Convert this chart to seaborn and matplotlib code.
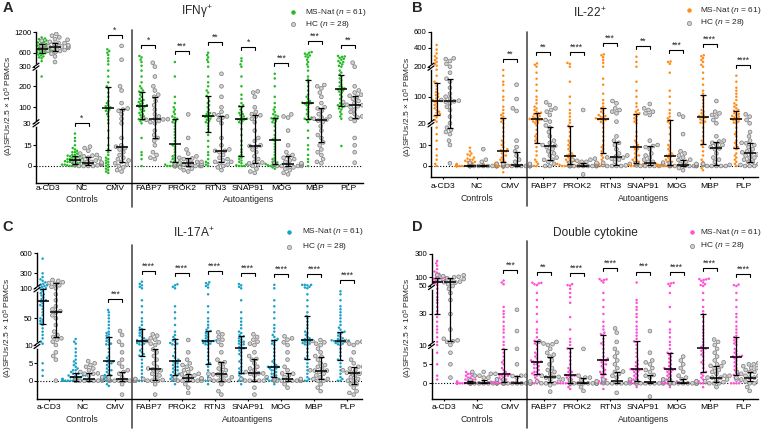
import numpy as np
import pandas as pd
import matplotlib
matplotlib.use("Agg")
import matplotlib.pyplot as plt
import matplotlib.colors as mcolors
import matplotlib.transforms as mtransforms
from matplotlib.lines import Line2D
import seaborn as sns

W, H = 763, 430

antigens = ["a-CD3", "NC", "CMV", "FABP7", "PROK2", "RTN3", "SNAP91", "MOG", "MBP", "PLP"]
groups = ["MS-Nat", "HC"]

# ---------------- A: IFNg ----------------
ifng_ms = [
    "250 420 480 500 520 540 560 580 590 600 610 620 630 640 650 660 670 680 690 690 700 700 710 720 720 730 740 740 750 760 780 800 810 830 850 860 880 900 920 940 960 980 1000 1020 1050",
    "0 0 0 0 0 0.5 0.5 1 1 1 1.5 1.5 2 2 2 2.5 3 3 3 3.5 4 4 4.5 4.5 5 5 5.5 6 6 6.5 7 7 7.5 8 8 9 10 10 11 12 13 15 18 20 23",
    "-5 -4 -3 -2 -1 0 1 2 3 4 5 6 8 10 12 15 20 25 30 45 60 70 80 85 90 95 100 105 110 120 130 150 170 190 200 220 250 280 350 420 480 550 600 650 700",
    "0 5 8 10 20 30 40 45 48 50 55 60 65 70 75 80 85 90 95 100 104 106 108 110 115 120 125 130 135 140 150 160 170 175 180 190 200 220 250 280 320 400 450 500 530",
    "-1 0 0 0 0 0 0.5 1 1 1.5 2 2.5 3 3 4 5 6 7 8 10 12 14 15 16 18 20 22 24 26 28 30 35 40 45 50 55 60 70 80 90 100 120 150 250 400",
    "0 1 2 3 5 8 10 14 18 22 24 26 28 30 35 40 45 50 55 58 60 62 63 65 70 75 80 90 100 110 120 130 145 155 170 180 200 220 250 300 400 450 500 550 600",
    "0 0 0 0.5 1 1 2 3 4 5 6 7 8 10 12 15 18 22 26 30 35 40 45 47 48 50 55 60 65 70 75 80 90 100 105 110 120 140 160 200 250 300 350 420 478",
    "-2 -1 0 0 0 0 0.5 1 1 1.5 2 2.5 3 4 5 6 8 10 12 14 16 18 19 20 22 25 28 30 35 40 45 50 52 55 60 65 70 80 90 100 120 150 200 240 264",
    "0 3 5 8 12 15 20 25 35 45 48 50 55 60 70 80 90 100 110 115 118 120 122 125 130 140 150 160 180 200 220 235 250 280 300 350 400 450 500 520 540 560 580 600 617",
    "14.5 50 60 70 80 90 95 100 105 108 110 115 120 130 140 150 160 170 175 180 185 185 190 195 200 210 220 230 240 250 260 270 280 300 320 350 380 400 420 450 470 490 510 520 532",
]
ifng_hc = [
    "400 520 580 620 650 660 680 700 720 740 760 770 780 780 790 800 820 840 860 880 890 920 950 980 1000 1050 1100 1150",
    "0 0 0 0 0.5 0.5 1 1 1.5 1.5 2 2 2.5 2.5 3 3 4 4 5 5.5 6 7 7.5 8 9 11 13 14",
    "-4 -3 -1 0 1 2 3 4 5 6 8 10 12 13 14 15 20 30 50 70 85 90 95 120 180 200 450 800",
    "5 6 8 10 15 18 20 22 25 30 35 40 45 47 48 50 60 70 90 110 130 150 160 180 200 250 300 385",
    "-4 -3 -2 -1 0 0 0 0 0 0 0.5 1 1 1.5 2 2 2.5 3 3 4 5 5.5 6 7 9 12 20 69",
    "-3 -1 0 1 2 3 3 4 5 6 8 10 11 11 12 15 20 30 45 55 60 65 70 80 100 150 200 264",
    "-5 -4 -2 0 1 2 2.5 3 5 7 10 12 14 14.5 15 18 20 25 35 50 60 65 70 80 100 150 170 176",
    "-6 -5 -3 -2 -1 0 0 0 0 0.5 1 1 1.5 1.5 2 2 3 4 5 6 7 8 10 15 25 55 60 69",
    "2 3 5 8 10 12 15 17 20 22 25 28 35 42 46 50 55 60 70 85 95 100 120 150 170 190 200 207",
    "2.4 10 15 20 40 50 55 60 70 80 90 100 105 110 112 115 120 125 130 140 150 155 160 170 180 200 300 386",
]
ifng_ms_med = [720, 4.5, 95, 106, 15.7, 63, 47.5, 18.8, 120, 185]
ifng_ms_q1 = [590, 1.5, 11.6, 47.5, 2.7, 24, 7.2, 1.5, 47, 106]
ifng_ms_q3 = [850, 7.5, 198, 175, 50, 153, 106, 52, 232, 258]
ifng_hc_med = [780, 2.4, 13.5, 47, 2, 11, 14.5, 1.5, 44, 111]
ifng_hc_q1 = [650, 0.7, 3.1, 20, 0, 3, 2.4, 0, 17, 55]
ifng_hc_q3 = [890, 6.7, 92, 150, 5.6, 62, 66, 7.2, 95, 154]
ifng_stars = ["", "*", "*", "*", "***", "**", "*", "***", "***", "**"]

# ---------------- B: IL-22 ----------------
il22_ms = [
    "0 1 3 5 8 12 15 18 25 30 38 42 45 48 52 55 60 65 70 75 80 85 88 88 90 95 100 105 110 115 125 135 145 150 170 190 210 230 250 270 290 310 340 380 435",
    "0 0 0 0 0 0 0 0 0 0 0 0 0 0 0 0 0 0 0 0 0 0 0 0 0.5 0.5 0.5 0.5 1 1 1 1.5 1.5 2 2 2.5 3 3 3.5 4 5 5.5 6 7 8.7",
    "-3 -1 0 0 0 0 0 0.5 1 1 2 2 3 3 4 5 5 6 7 7 7.5 8 9 10 11 12 14 16 18 20 25 30 35 40 45 50 60 70 90 100 120 140 150 170 189",
    "0 0 1 2 3 5 7 9 11 12 13 14 15 17 19 20 22 25 28 30 31 32 33 35 37 40 42 45 48 50 52 55 60 65 70 80 90 100 120 140 160 180 200 220 235",
    "0 0 0 0 0 0 0 0.5 1 1 1 1.5 2 2 2.5 3 3 3.5 4 4.5 5 5 5.5 6 7 8 9 10 11 12 14 16 18 19 22 30 40 50 60 80 100 150 200 230 240",
    "0 0 0 1 2 3 4 5 6 7 8 9 10 12 14 16 18 20 24 28 30 32 32 33 35 38 40 42 45 50 55 60 65 70 80 90 110 140 160 200 240 270 300 320 330",
    "0 0 0 0 0 0.5 1 1 1.5 2 2 3 3 4 5 5 6 7 8 8 9 9.2 10 11 12 14 16 20 25 30 35 40 45 48 50 55 60 70 80 100 120 150 200 250 305",
    "0 0 0 0 0 0 0 0 0 0.3 0.5 1 1 1.5 2 2 3 3 4 4.5 4.9 5 5.5 6 7 8 9 10 12 15 18 20 25 30 35 40 50 60 80 100 120 180 230 250 255",
    "-2 -1 0 0 1 2 3 5 7 9 10 11 12 14 16 18 20 22 25 28 32 35 38 40 42 45 50 55 60 70 80 90 100 110 120 140 160 180 200 220 250 270 290 310 320",
    "0 1 2 3 4 5 6 8 8.7 9 10 11 12 14 15 16 18 20 22 25 28 30 32 33 35 38 40 42 45 48 50 55 58 60 65 70 75 80 90 100 110 120 130 150 170",
]
il22_hc = [
    "1.3 10 12 15 16 17 18 20 40 60 70 80 85 86 88 90 95 100 110 130 150 160 180 200 230 260 280 288",
    "0 0 0 0 0 0 0 0 0 0 0 0 0 0 0 0 0.3 0.3 0.5 0.5 0.5 1 1 1 1.5 2 3 8",
    "0 0 0 0 0 0 0 0 0 0 0 0 0.3 0.5 0.5 0.5 1 1 2 3 5 7 9 12 57 65 93 140",
    "0 0 1 2 2.9 3 4 5 6 7 8 9 9.7 10 11 12 14 16 18 19 25 30 45 55 60 65 75 83",
    "-4 0 0 0 0 0 0 0 0 0 0 0 0 0.2 0.3 0.5 0.5 1 1 1.5 1.6 2 2 2.5 3 3 3.5 60",
    "0 0 0 0 0.3 0.5 1 1.5 2 3 3.5 4 4.1 4.5 5 6 8 10 11 12 14 25 50 55 60 65 80 87",
    "0 0 0 0 0 0.3 0.5 1 1 1.5 1.6 2 2 3 4 5 6 8 9 9.5 10 12 45 50 55 60 65 78",
    "-2 -1 0 0 0 0 0 0 0 0 0 0.3 0.3 0.5 0.5 1 1 1.5 2 2.9 3 4 5 6 7 15 40 47",
    "0 0 0 0 0 0.5 0.5 1 2 3 4 6 8 8.4 9 10 10 11 11.6 12 14 20 30 40 45 50 55 87",
    "0 0 0 0.5 1 1.5 2 2 3 4 4 5 5.5 6 6.5 7 8 9 10 10.8 11 12 14 16 20 30 40 47",
]
il22_ms_med = [88, 0, 7.3, 32, 4.9, 32, 9.2, 4.9, 38, 32]
il22_ms_q1 = [45, 0, 2, 11, 1, 6, 1.6, 0.3, 10.5, 8.7]
il22_ms_q3 = [145, 0.5, 35, 52, 18.6, 65, 47, 30, 105, 58]
il22_hc_med = [87, 0, 0.5, 9.7, 0.2, 4.1, 1.6, 0.3, 8.4, 6]
il22_hc_q1 = [18, 0, 0, 2.9, 0, 0.3, 0.3, 0, 0.5, 2]
il22_hc_q3 = [158, 0.3, 6.8, 18.3, 1.6, 11.2, 9.5, 2.9, 11.6, 10.8]
il22_stars = ["", "", "**", "**", "****", "***", "**", "***", "****", "****"]

# ---------------- C: IL-17A ----------------
il17_ms = [
    "1.4 3 5 12 15 20 25 30 35 40 42 44 46 48 50 55 60 65 70 72 75 78 79 80 82 85 88 90 92 95 98 99 100 110 120 130 140 150 160 180 200 220 250 300 520",
    "0 0 0 0 0 0 0 0 0 0 0 0 0 0 0.5 0.5 0.5 0.5 1 1 1 1 1 1.5 1.5 1.5 2 2 2 2.3 2.5 3 3 3.5 4 4.5 5 5.5 6 7 8 9 12 15 19",
    "-1.5 -1 0 0 0 0.5 1 1 1.5 1.6 2 2.5 3 3 3.5 4 4.5 5 5 5.5 5.5 6 6.5 7 8 9 10 11 12 14 16 18 20 22 24 26 28 30 35 40 45 50 55 60 64",
    "0 0 0.5 1 2 3 4 5 6 7 7.1 7.5 8 8.5 9 10 11 12 13 14 15 16 16 17 18 20 22 24 26 28 30 32 34 36 40 45 50 60 70 80 100 120 140 160 188",
    "-1 0 0 0 0.5 1 1 1.5 1.6 2 2 2.5 3 3 3.5 4 4 4.5 5 5 5.5 5.6 6 6.5 7 8 9 10 11 12 13 15 17 19 22 25 30 40 50 60 70 100 120 140 153",
    "-1 0 0 0.5 1 2 3 4 4.7 5 6 7 8 9 10 11 12 13 14 15 15.5 16 16.5 17 18 20 22 24 26 28 30 31 33 36 40 45 50 60 70 90 110 130 150 170 180",
    "-1 0 0 0.5 1 1.5 2 2.1 2.5 3 3.5 4 5 5.5 6 7 7.5 8 8.5 9 9.1 9.5 10 11 12 14 15 16 18 20 22 23 25 28 30 35 40 45 50 60 80 100 120 140 157",
    "-1 0 0 0 0 0.5 0.5 1 1.1 1.5 2 2 2.5 3 3 3.5 3.5 4 4 4 4 4.5 5 5.5 6 7 8 9 10 12 14 16 17.5 19 22 25 30 35 40 50 60 70 80 100 146",
    "0 0 0.5 1 2 3 4 5 6 6.3 7 8 9 10 11 12 13 14 15 16 17 17.5 18 19 20 22 25 28 30 35 40 45 50 54 60 70 80 90 100 110 120 140 146 146 146",
    "0 0 0.5 1 2 3 4 5 5.9 6 7 8 9 10 11 12 13 14 15 15.5 16 16 16.5 17 18 19 20 22 24 26 28 29 30 33 36 40 45 50 55 60 65 70 80 90 95",
]
il17_hc = [
    "0 6 7 8 10 15 18 20 22 25 30 40 50 55 60 62 65 70 80 90 100 120 140 160 170 180 200 211",
    "0 0 0 0 0 0 0 0 0.3 0.5 0.5 0.5 0.5 0.5 1 1 1 1.5 2 2 2.1 2.5 3 3.5 4 4.5 5 5.6",
    "-4 -1 0 0 0 0 0 0 0 0 0 0.3 0.4 0.5 0.5 1 1 2 2.5 3 4 5 6 8 10 15 25 31",
    "-4 -1 0 0 0 0.2 0.5 1 1.5 2 2.5 3 3.3 3.5 4 5 6 7 8 8.8 10 12 14 16 18 20 24 26",
    "-3.5 -2 -1 0 0 0 0 0 0 0.3 0.5 0.7 0.7 1 1 1.2 1.5 1.8 2 2.5 3 3.5 4 4.5 5 6 8 17.5",
    "-4 -3 -1 0 0 0 0 0.5 1 1 1.5 1.8 1.8 2 2.5 3 3.5 4 5 5.3 6 8 10 15 18 22 26 29",
    "-4 -2 0 0 0 0 0 0.5 1 1.5 2 2.1 2.1 2.5 3 3.5 4 5 6 6.2 7 8 10 12 15 18 22 26",
    "-2 -1 0 0 0 0 0 0 0 0 0.3 0.4 0.4 0.5 1 1 1.5 2 2.1 3 4 6 8 10 14 18 20 23",
    "-3 -2 -1 0 0 0.5 0.5 1 1.5 2 2.5 2.9 2.9 3 3.5 4 4.5 5 6 6.8 7 8 9 10 12 14 16 17.5",
    "-4 -3.5 -3 -2 -1 -1 0 0 0.5 1 1.5 2 2.3 2.3 2.5 3 3 3.5 4 4 5 6 8 10 12 14 15 16",
]
il17_ms_med = [79, 1, 5.5, 16, 5.6, 16, 9.1, 4, 17.5, 16]
il17_ms_q1 = [42, 0, 1.6, 7.1, 1.6, 4.7, 2.1, 1.1, 6.3, 5.9]
il17_ms_q3 = [99, 2.3, 22, 34, 19, 31, 23, 17.5, 54, 29]
il17_hc_med = [61, 0.5, 0.4, 3.3, 0.7, 1.8, 2.1, 0.4, 2.9, 2.3]
il17_hc_q1 = [22, 0, 0, 0.2, 0, 0, 0, 0, 0.5, -1]
il17_hc_q3 = [167, 2.1, 2.6, 8.8, 1.8, 5.3, 6.2, 2.1, 6.8, 4]
il17_stars = ["", "", "***", "****", "****", "****", "****", "****", "****", "****"]

# ---------------- D: double cytokine ----------------
dbl_ms = [
    "1 2 5 8 10 12 15 18 20 22 25 28 30 32 35 38 40 42 45 48 55 65 72 75 75 78 80 82 85 88 90 92 94 96 98 100 110 120 130 140 150 170 200 220 240",
    "0 0 0 0 0 0 0 0 0 0 0 0 0 0 0 0 0 0 0 0 0 0 0 0 0 0 0 0.3 0.3 0.5 0.5 0.7 0.7 1 1 1 1.5 1.5 2 2 2 2.5 2.5 3 3",
    "0 0 0 0 0 0 0 0 0.2 0.4 0.5 0.8 1 1 1.5 1.5 2 2 2 2.2 2.4 2.6 3 3.5 4 5 5.5 6 7 8 9 10 12 15 18 20 22 25 28 30 32 35 60 70 81",
    "0 0 0.5 1 1.5 2 2.2 2.4 2.6 3 3 3.5 4 4 4.5 5 5 5.5 5.6 5.7 5.7 6 6.5 7 7.5 8 9 10 11 12 12.7 13 15 18 20 25 30 35 40 45 55 60 65 68 69",
    "-1.5 -1 -0.5 0 0 0 0 0 0 0 0 0 0.5 1 1 1.5 1.5 2 2 2 2.2 2.2 2.5 3 3 3.5 4 5 6 7 8 9 9.1 10 12 14 20 28 38 42 45 48 52 55 61",
    "-1.5 0 0 0 0.5 1 1 1.5 2 2.4 2.5 3 3 3.5 4 4.5 5 5 5.5 6 6 6.1 6.5 7 8 9 10 11 12 14 16.5 17 18 20 22 25 30 35 40 45 70 80 85 88 90",
    "-1 0 0 0 0 0 0.5 0.6 1 1 1.5 2 2 2.5 3 3 3.5 3.5 3.6 3.7 3.7 4 4.5 5 5.5 6 7 8 9 10 12 12.3 14 16 18 20 22 25 28 30 33 35 38 40 70",
    "-1 0 0 0 0 0 0 0.5 0.6 1 1 1.5 2 2 2.5 3 3 3.5 3.5 3.7 3.7 4 4 4.5 5 5.5 6 6.5 7 7.5 7.9 8 9 10 12 15 18 20 25 35 45 50 62 65 68",
    "-1 0 0 0 0.5 1 1.5 2 2.5 2.9 3 4 5 5.5 6 7 7.5 8 8.5 9 9.1 9.5 10 12 14 16 18 20 22 25 28 30 32 35 40 45 50 55 60 70 80 85 88 90 92",
    "0 0 0 0 0.5 1 1.5 2 2.2 2.5 3 3.5 4 4.5 5 5.5 6 6.5 6.8 7 7 7.2 7.5 8 8.5 9 10 11 12 13 14 15 16 18 20 22 25 28 30 35 40 45 50 55 58",
]
dbl_hc = [
    "1.5 5 8 10 12 12.4 13 14 20 30 40 45 48 50 60 70 72 75 80 85 90 94 100 105 110 115 118 120",
    "0 0 0 0 0 0 0 0 0 0 0 0 0.2 0.2 0.3 0.5 0.5 0.8 1 1 1.5 1.5 2 2 2.5 2.5 3 3",
    "0 0 0 0 0 0 0 0 0 0 0 0 0 0 0 0 0.3 0.5 1 1 1.5 1.9 2 2 5 9 19 33",
    "-2.2 -0.5 0 0 0 0.4 0.5 1 1 1.5 1.7 1.7 2 2.5 3 3.5 4 5 6 7 7.5 8 9 10 10.5 11 12 12.3",
    "-2 -1 0 0 0 0 0 0 0 0 0 0 0 0 0 0 0 0 0.3 0.5 0.5 0.5 1 1 1.5 1.5 2 9",
    "-2.5 0 0 0 0 0 0 0 0.3 0.5 0.7 0.7 1 1 1.5 2 2.5 3 3.1 4 5 6 7 8 9 12 18 20.7",
    "-3.5 0 0 0 0 0 0 0 0 0 0 0.3 0.4 0.4 0.5 1 1 1.5 2 2.2 3 3.5 4 5 5.5 6 8 19",
    "0 0 0 0 0 0 0 0 0 0 0 0 0 0 0 0.3 0.5 0.5 1 1 1.1 1.5 2 3 4 5 6 7",
    "-1 0 0 0 0.3 0.5 1 1 1.5 1.5 1.5 2 2 2.5 3 3.5 4 4.5 4.6 5 5.5 6 7 8 9 10 12 13.5",
    "-2 -1 0 0 0.5 0.5 1 1 1 1.5 1.5 1.5 1.5 2 2 2 2.5 2.5 2.9 3 3 3.5 4 4 4.5 5 5 5.3",
]
dbl_ms_med = [75, 0, 2.4, 5.7, 2.2, 6.1, 3.7, 3.7, 9.1, 7]
dbl_ms_q1 = [30, 0, 0.4, 2.4, 0, 2.4, 0.6, 0.6, 2.9, 2.2]
dbl_ms_q3 = [94, 0.7, 9, 12.7, 9.1, 16.5, 12.3, 7.9, 30, 15]
dbl_hc_med = [71, 0.2, 0, 1.7, 0, 0.7, 0.4, 0, 1.5, 1.5]
dbl_hc_q1 = [12.4, 0, 0, 0.4, 0, 0, 0, 0, 0.3, 0.5]
dbl_hc_q3 = [94, 0.8, 1.9, 7, 1.5, 3.1, 2.2, 1.1, 4.6, 2.9]
dbl_stars = ["", "", "***", "**", "****", "****", "***", "****", "****", "****"]

HC_FILL = "#d2d2d2"
HC_EDGE = "#7a7a7a"

sns.set_style("ticks")
plt.rcParams["font.family"] = ["Liberation Sans", "DejaVu Sans"]
plt.rcParams["mathtext.fontset"] = "custom"
plt.rcParams["mathtext.rm"] = "Liberation Sans"
plt.rcParams["mathtext.it"] = "Liberation Sans:italic"
plt.rcParams["mathtext.bf"] = "Liberation Sans:bold"

fig = plt.figure(figsize=(W / 100, H / 100), dpi=100)


def ftext(x, y, s, **kw):
    return fig.text(x / W, 1 - y / H, s, **kw)


def make_scale(vals, pix):
    # piecewise-linear (broken) y axis, in pixel units
    v = np.asarray(vals, float)
    p = -np.asarray(pix, float)
    s0 = (p[1] - p[0]) / (v[1] - v[0])
    s1 = (p[-1] - p[-2]) / (v[-1] - v[-2])
    v = np.r_[v[0] - 1e4, v, v[-1] + 1e5]
    p = np.r_[p[0] - 1e4 * s0, p, p[-1] + 1e5 * s1]
    return (lambda y: np.interp(y, v, p)), (lambda q: np.interp(q, p, v))


def draw_panel(rect, ms, hc, ms_stats, hc_stats, stars, color, vals, pix, ticks,
               breaks, xpad, group_off, sep):
    l, t, r, b = rect
    ax = fig.add_axes([l / W, 1 - b / H, (r - l) / W, (b - t) / H])
    aw, ah = r - l, b - t
    fwd, inv = make_scale(vals, pix)
    ax.set_yscale("function", functions=(fwd, inv))

    rows = []
    for g, lst in zip(groups, (ms, hc)):
        for ag, s in zip(antigens, lst):
            rows += [(ag, g, float(v)) for v in s.split()]
    df = pd.DataFrame(rows, columns=["antigen", "group", "value"])

    ax.axhline(0, color="black", lw=0.8, ls=(0, (1, 1.6)), zorder=1)
    sns.swarmplot(data=df, x="antigen", y="value", hue="group", order=antigens,
                  hue_order=groups, dodge=True, palette=[color, HC_FILL], size=1.8,
                  linewidth=0, legend=False, warn_thresh=1, ax=ax, zorder=2)
    hc_rgb = mcolors.to_rgb(HC_FILL)
    for coll in ax.collections:
        fc = coll.get_facecolor()
        if len(fc) and np.allclose(fc[0][:3], hc_rgb):
            coll.set_edgecolor(HC_EDGE)
            coll.set_linewidth(0.5)
            coll.set_sizes([2.7 ** 2])

    x = np.arange(len(antigens))
    for off, (q1, med, q3) in zip((-0.2, 0.2), (ms_stats, hc_stats)):
        q1, med, q3 = (np.asarray(a, float) for a in (q1, med, q3))
        ax.errorbar(x + off, med, yerr=[med - q1, q3 - med], fmt="none", ecolor="black",
                    elinewidth=0.9, capsize=2.2, capthick=0.9, zorder=4)
        ax.hlines(med, x + off - 0.18, x + off + 0.18, color="black", lw=1.1, zorder=4)

    # significance brackets
    for i, st in enumerate(stars):
        if not st:
            continue
        top = max(float(v) for v in ms[i].split() + hc[i].split())
        yb = fwd(top) + 11
        y0, y1 = inv(yb - 3), inv(yb)
        ax.plot([i - 0.21, i - 0.21, i + 0.21, i + 0.21], [y0, y1, y1, y0],
                color="black", lw=0.8, clip_on=False, zorder=4)
        ax.text(i, inv(yb + 0.3), st, ha="center", va="bottom", fontsize=6.2)

    ax.set_xlim(-0.37, 9.45)
    ax.set_ylim(vals[0], vals[-1])
    ax.set_yticks(ticks)
    ax.set_yticklabels([str(tk) for tk in ticks])
    ax.set_xlabel("")
    ax.set_ylabel("")
    sns.despine(ax=ax)
    for sp in ("left", "bottom"):
        ax.spines[sp].set_linewidth(1.0)
        ax.spines[sp].set_color("black")
    ax.tick_params(axis="y", length=2.5, width=0.8, pad=0.6, labelsize=5.6, colors="black")
    ax.tick_params(axis="x", length=1.5, width=0.8, pad=xpad, labelsize=6.1, colors="black")

    # axis breaks
    lo, hi = fwd(vals[0]), fwd(vals[-1])
    for bv in breaks:
        yf = (fwd(bv) - lo) / (hi - lo)
        ax.plot([0, 0], [yf - 1.6 / ah, yf + 1.6 / ah], transform=ax.transAxes,
                color="white", lw=2, clip_on=False, zorder=6)
        for d in (-1.4, 1.4):
            ax.plot([-3 / aw, 3 / aw], [yf + (d - 2.2) / ah, yf + (d + 2.2) / ah],
                    transform=ax.transAxes, color="black", lw=0.9, clip_on=False, zorder=7)

    blend = mtransforms.blended_transform_factory(ax.transData, ax.transAxes)
    ax.plot([2.5, 2.5], sep, transform=blend, color="#4d4d4d", lw=1.2, clip_on=False)
    ax.text(1, -group_off / ah, "Controls", transform=blend, ha="center", va="center", fontsize=6.3)
    ax.text(6, -group_off / ah, "Autoantigens", transform=blend, ha="center", va="center", fontsize=6.3)
    return ax


def legend(mx, tx, y1, y2, color):
    fig.add_artist(Line2D([mx / W], [1 - y1 / H], marker="o", ls="", ms=2.2, color=color,
                          transform=fig.transFigure))
    fig.add_artist(Line2D([mx / W], [1 - y2 / H], marker="o", ls="", ms=3.0, mfc=HC_FILL,
                          mec=HC_EDGE, mew=0.5, transform=fig.transFigure))
    ftext(tx, y1, "MS-Nat ($n$ = 61)", ha="left", va="center", fontsize=6.0)
    ftext(tx, y2, "HC ($n$ = 28)", ha="left", va="center", fontsize=6.0)


ylab = "(Δ)SFUs/2.5 × 10$^{5}$ PBMCs"

# A
draw_panel((36, 32.3, 363, 183), ifng_ms, ifng_hc,
           (ifng_ms_q1, ifng_ms_med, ifng_ms_q3), (ifng_hc_q1, ifng_hc_med, ifng_hc_q3),
           ifng_stars, "#22bb22",
           [-12.3, 0, 15, 30, 100, 200, 300, 600, 1200],
           [183, 166, 145.3, 123.3, 107.3, 86.3, 66.7, 52.7, 32.3],
           [0, 15, 30, 100, 200, 300, 600, 1200], [30, 300], 0.3, 16.3, (-0.16, 1.015))
ftext(8, 8, "A", fontsize=10.5, weight="bold", ha="center", va="center")
ftext(197, 11.7, "IFNγ$^{+}$", fontsize=8.6, ha="center", va="center")
ftext(9.2, 106, ylab, fontsize=6.0, rotation=90, ha="center", va="center")
legend(292.7, 305, 12.3, 24, "#22bb22")

# B
draw_panel((431, 32, 758, 176.7), il22_ms, il22_hc,
           (il22_ms_q1, il22_ms_med, il22_ms_q3), (il22_hc_q1, il22_hc_med, il22_hc_q3),
           il22_stars, "#ff8c1a",
           [-5.1, 0, 10, 20, 100, 200, 400, 600],
           [176.7, 166, 145, 123.3, 96.7, 66.7, 47.7, 32],
           [0, 10, 20, 100, 200, 400, 600], [20, 200], 2.9, 22.3, (-0.2, 1.0))
ftext(417, 7.5, "B", fontsize=10.5, weight="bold", ha="center", va="center")
ftext(590, 13.3, "IL-22$^{+}$", fontsize=8.6, ha="center", va="center")
ftext(408, 106.5, ylab, fontsize=6.0, rotation=90, ha="center", va="center")
legend(689, 700, 10, 22.7, "#ff8c1a")

# C
draw_panel((37, 253.3, 362, 399), il17_ms, il17_hc,
           (il17_ms_q1, il17_ms_med, il17_ms_q3), (il17_hc_q1, il17_hc_med, il17_hc_q3),
           il17_stars, "#17a0c8",
           [-5.26, 0, 5, 10, 50, 100, 300, 600],
           [399, 380.7, 363.3, 345, 318.3, 288.3, 273.3, 253.3],
           [0, 5, 10, 50, 100, 300, 600], [10, 100], 2.4, 20, (-0.2, 1.057))
ftext(8, 227, "C", fontsize=10.5, weight="bold", ha="center", va="center")
ftext(194, 233.3, "IL-17A$^{+}$", fontsize=8.6, ha="center", va="center")
ftext(8.5, 328, ylab, fontsize=6.0, rotation=90, ha="center", va="center")
legend(289.3, 301.7, 231.7, 246.7, "#17a0c8")

# D
draw_panel((431.5, 254, 758, 399), dbl_ms, dbl_hc,
           (dbl_ms_q1, dbl_ms_med, dbl_ms_q3), (dbl_hc_q1, dbl_hc_med, dbl_hc_q3),
           dbl_stars, "#ff50d8",
           [-4.13, 0, 5, 10, 30, 50, 100, 300],
           [399, 383.3, 364.3, 345, 314, 286, 277.3, 254],
           [0, 5, 10, 30, 50, 100, 300], [10, 50], 2.4, 20.3, (-0.2, 1.09))
ftext(417, 227, "D", fontsize=10.5, weight="bold", ha="center", va="center")
ftext(595, 233.3, "Double cytokine", fontsize=8.6, ha="center", va="center")
ftext(408, 328, ylab, fontsize=6.0, rotation=90, ha="center", va="center")
legend(692, 700.5, 232.3, 246, "#ff50d8")

fig.savefig("out.png", dpi=100)
